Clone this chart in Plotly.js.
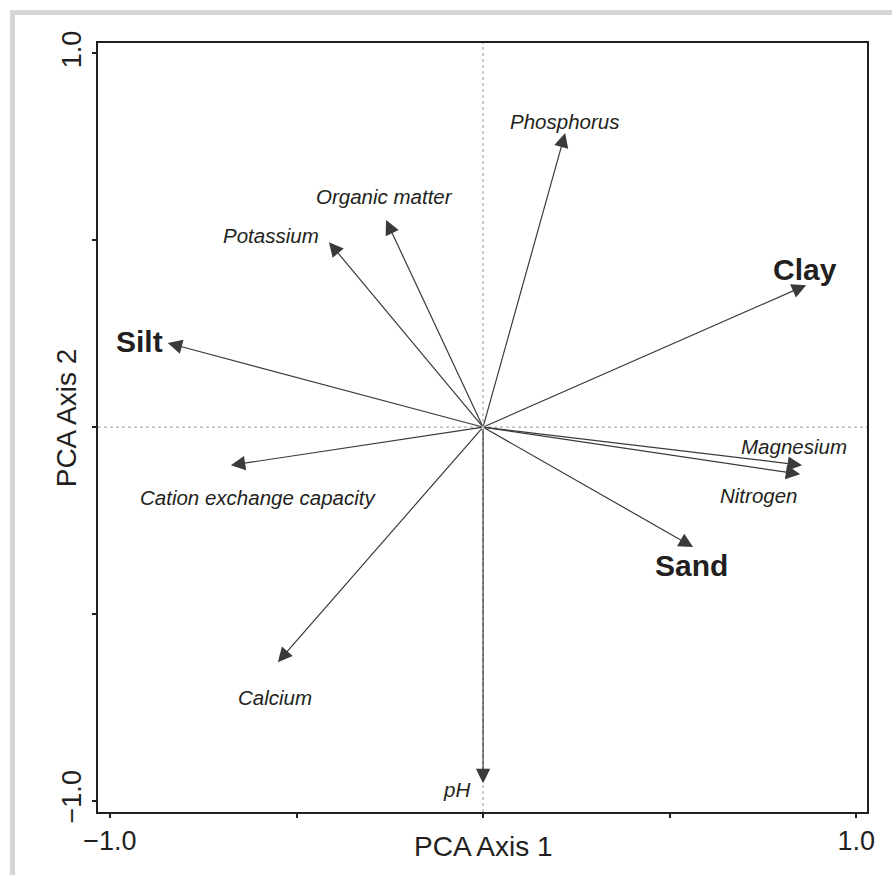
<!DOCTYPE html>
<html>
<head>
<meta charset="utf-8">
<script src="https://cdn.plot.ly/plotly-3.0.1.min.js"></script>
<style>html,body{margin:0;padding:0;background:#fff;}#chart{width:892px;height:875px;}</style>
</head>
<body>
<div id="chart"></div>
<script>
// Variable loadings (arrow tips) on PCA axes
const variables = ['Phosphorus','Organic matter','Potassium','Clay','Silt','Magnesium','Nitrogen','Sand','Cation exchange capacity','Calcium','pH'];
const axis1 = [0.220,-0.260,-0.413,0.866,-0.845,0.855,0.850,0.563,-0.676,-0.550,0.000];
const axis2 = [0.787,0.554,0.495,0.380,0.225,-0.102,-0.126,-0.321,-0.102,-0.629,-0.953];
// Soil texture variables shown in bold
const texture = [false,false,false,true,true,false,false,true,false,false,false];
// Label anchor points in axis units
const labelAxis1 = [0.217,-0.265,-0.568,0.863,-0.920,0.834,0.740,0.558,-0.603,-0.558,-0.070];
const labelAxis2 = [0.819,0.616,0.514,0.423,0.230,-0.051,-0.182,-0.369,-0.187,-0.723,-0.969];
// Axis ticks
const tickValues = [-1.0,-0.5,0.0,0.5,1.0];
const tickLabels = ['\u22121.0','','','','1.0'];

const FONT = 'Liberation Sans, Arial, Helvetica, sans-serif';
const INK = '#231f20';
const ARROW = '#3a3a3a';

const annotations = [];
variables.forEach((v, i) => {
  annotations.push({
    x: axis1[i], y: axis2[i], ax: 0, ay: 0,
    xref: 'x', yref: 'y', axref: 'x', ayref: 'y',
    text: '', showarrow: true, arrowhead: 2, arrowsize: 2.4, arrowwidth: 1.2,
    arrowcolor: ARROW, standoff: 0, startstandoff: 0
  });
  annotations.push({
    x: labelAxis1[i], y: labelAxis2[i], xref: 'x', yref: 'y',
    text: v, showarrow: false, xanchor: 'center', yanchor: 'middle',
    font: texture[i]
      ? {family: FONT, size: 30, color: INK, weight: 'bold'}
      : {family: FONT, size: 20.5, color: INK, style: 'italic'}
  });
});
annotations.push({
  x: 0.5009, y: -0.0446, xref: 'paper', yref: 'paper', showarrow: false,
  text: 'PCA Axis 1', xanchor: 'center', yanchor: 'middle',
  font: {family: FONT, size: 28, color: INK}
});
annotations.push({
  x: -0.0416, y: 0.512, xref: 'paper', yref: 'paper', showarrow: false,
  text: 'PCA Axis 2', textangle: -90, xanchor: 'center', yanchor: 'middle',
  font: {family: FONT, size: 28, color: INK}
});

const axisCommon = {
  showgrid: false, zeroline: false, showline: true, mirror: true,
  linecolor: INK, linewidth: 2,
  ticks: 'outside', ticklen: 4, tickwidth: 2, tickcolor: INK,
  tickmode: 'array', tickvals: tickValues, ticktext: tickLabels,
  tickfont: {family: FONT, size: 27, color: INK},
  title: {text: ''}, fixedrange: true
};

const layout = {
  width: 892, height: 875,
  margin: {l: 98, r: 25.3, t: 43, b: 63.3},
  paper_bgcolor: '#fff', plot_bgcolor: '#fff',
  showlegend: false,
  xaxis: Object.assign({}, axisCommon, {range: [-1.032, 1.029], ticklabelstandoff: 0}),
  yaxis: Object.assign({}, axisCommon, {range: [-1.030, 1.028], tickangle: -90, ticklabelstandoff: 0}),
  shapes: [
    {type: 'line', xref: 'x', yref: 'paper', x0: 0, x1: 0, y0: 0, y1: 1,
     line: {color: '#9a9a9a', width: 1, dash: 'dot'}, layer: 'below'},
    {type: 'line', xref: 'paper', yref: 'y', x0: 0, x1: 1, y0: 0, y1: 0,
     line: {color: '#9a9a9a', width: 1, dash: 'dot'}, layer: 'below'},
    {type: 'line', xref: 'paper', yref: 'paper', x0: -0.1112, x1: -0.1112, y0: -0.1, y1: 1.0429,
     line: {color: '#d6d6d6', width: 5}},
    {type: 'line', xref: 'paper', yref: 'paper', x0: -0.1145, x1: 1.1, y0: 1.0397, y1: 1.0397,
     line: {color: '#d6d6d6', width: 5}}
  ],
  annotations: annotations
};

const traces = [{
  type: 'scatter', mode: 'markers', x: axis1, y: axis2, text: variables,
  marker: {size: 1, color: 'rgba(0,0,0,0)'}, hoverinfo: 'text'
}];

Plotly.newPlot('chart', traces, layout, {displayModeBar: false, staticPlot: true});
</script>
</body>
</html>
